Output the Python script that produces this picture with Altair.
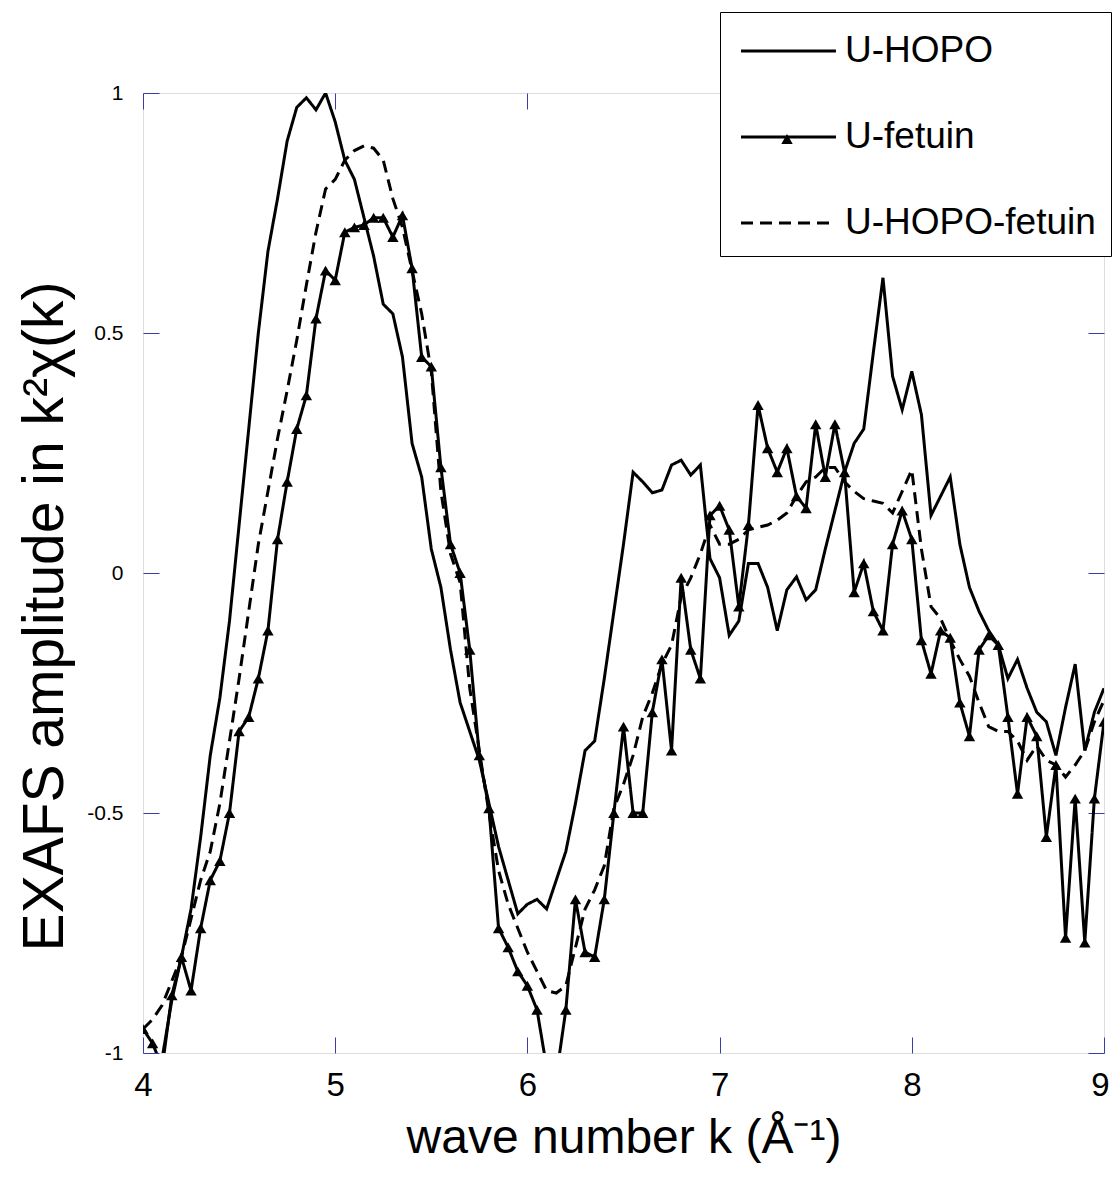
import altair as alt
import pandas as pd

k = [round(4 + 0.05 * i, 2) for i in range(101)]

u_hopo = [
    -1.15, -1.08, -1.01, -0.89, -0.80, -0.70, -0.55, -0.38, -0.26, -0.10,
    0.10, 0.30, 0.50, 0.67, 0.78, 0.90, 0.97, 0.99, 0.965, 1.00,
    0.94, 0.86, 0.82, 0.74, 0.66, 0.56, 0.54, 0.45, 0.27, 0.20,
    0.05, -0.03, -0.16, -0.27, -0.33, -0.39, -0.48, -0.57, -0.64, -0.71,
    -0.69, -0.68, -0.70, -0.64, -0.58, -0.48, -0.37, -0.35, -0.22, -0.08,
    0.06, 0.21, 0.19, 0.167, 0.173, 0.225, 0.235, 0.204, 0.225, 0.03,
    -0.01, -0.13, -0.10, 0.02, 0.02, -0.03, -0.12, -0.035, -0.008, -0.056,
    -0.035, 0.05, 0.13, 0.21, 0.27, 0.30, 0.46, 0.615, 0.41, 0.34,
    0.42, 0.33, 0.12, 0.16, 0.20, 0.06, -0.03, -0.08, -0.12, -0.15,
    -0.22, -0.18, -0.24, -0.29, -0.31, -0.38, -0.28, -0.19, -0.37, -0.29,
    -0.24,
]

u_fetuin = [
    -0.95, -0.98, -1.03, -0.88, -0.80, -0.87, -0.74, -0.64, -0.60, -0.50,
    -0.33, -0.30, -0.22, -0.12, 0.07, 0.19, 0.30, 0.37, 0.53, 0.63,
    0.61, 0.71, 0.72, 0.725, 0.74, 0.74, 0.70, 0.745, 0.635, 0.45,
    0.43, 0.22, 0.06, 0.00, -0.16, -0.38, -0.49, -0.74, -0.78, -0.83,
    -0.86, -0.91, -1.03, -1.05, -0.91, -0.68, -0.79, -0.80, -0.68, -0.50,
    -0.32, -0.50, -0.50, -0.29, -0.18, -0.37, -0.01, -0.16, -0.22, 0.12,
    0.14, 0.09, -0.07, 0.10, 0.35, 0.26, 0.21, 0.26, 0.16, 0.135,
    0.31, 0.20, 0.31, 0.21, -0.04, 0.02, -0.08, -0.12, 0.06, 0.13,
    0.07, -0.14, -0.21, -0.12, -0.135, -0.27, -0.34, -0.16, -0.13, -0.15,
    -0.30, -0.46, -0.30, -0.34, -0.55, -0.40, -0.76, -0.47, -0.77, -0.47,
    -0.31,
]

u_hopo_fetuin = [
    -0.95, -0.93, -0.90, -0.85, -0.80, -0.72, -0.64, -0.58, -0.48, -0.35,
    -0.22, -0.08, 0.06, 0.17, 0.28, 0.38, 0.485, 0.60, 0.71, 0.80,
    0.82, 0.86, 0.88, 0.89, 0.885, 0.86, 0.78, 0.72, 0.63, 0.54,
    0.42, 0.17, 0.04, -0.02, -0.24, -0.37, -0.50, -0.62, -0.69, -0.74,
    -0.79, -0.83, -0.87, -0.875, -0.86, -0.78, -0.70, -0.66, -0.61, -0.49,
    -0.44, -0.38, -0.30, -0.25, -0.19, -0.15, -0.05, -0.01, 0.04, 0.10,
    0.06, 0.06, 0.07, 0.09, 0.095, 0.10, 0.11, 0.125, 0.16, 0.19,
    0.20, 0.22, 0.22, 0.19, 0.17, 0.155, 0.15, 0.145, 0.125, 0.17,
    0.215, 0.05, -0.07, -0.095, -0.14, -0.18, -0.215, -0.27, -0.32, -0.33,
    -0.33, -0.35, -0.39, -0.36, -0.39, -0.40, -0.425, -0.40, -0.37, -0.31,
    -0.265,
]

series_names = ["U-HOPO", "U-fetuin", "U-HOPO-fetuin"]
x_ticks = [4, 5, 6, 7, 8, 9]
y_ticks = [-1, -0.5, 0, 0.5, 1]

rows = []
for name, vals in zip(series_names, [u_hopo, u_fetuin, u_hopo_fetuin]):
    for kk, v in zip(k, vals):
        rows.append({"k": kk, "chi": v, "series": name})
df = pd.DataFrame(rows)

FONT = "Liberation Sans"
NARROW = "Liberation Sans Narrow, Liberation Sans"
BLUE = "#3c3ca5"
W, H = 961, 960

x_enc = alt.X(
    "k:Q",
    scale=alt.Scale(domain=[4, 9], nice=False, zero=False),
    axis=alt.Axis(
        values=x_ticks, title="wave number k (Å⁻¹)", domain=False, ticks=False,
        grid=True, gridColor=BLUE, gridWidth=1, gridOpacity=1,
        gridDash=[16, H - 32, 16, 2000],
        labelExpr="toString(datum.value)", labelFlush=False,
        labelAlign={"condition": {"test": "datum.value === 9", "value": "right"},
                    "value": "center"},
        labelOffset={"condition": {"test": "datum.value === 9", "value": 5},
                     "value": 0},
        labelFontSize=33, labelPadding=16, labelColor="black", labelFont=NARROW,
        titleFontSize=48, titleFont=FONT, titleFontWeight="normal",
        titleColor="black", titlePadding=12,
    ),
)
y_enc = alt.Y(
    "chi:Q",
    scale=alt.Scale(domain=[-1, 1], nice=False, zero=False),
    axis=alt.Axis(
        values=y_ticks, title="EXAFS amplitude in k²χ(k)", domain=False,
        ticks=False, grid=True, gridColor=BLUE, gridWidth=1, gridOpacity=1,
        gridDash=[16, W - 32, 16, 2000],
        labelExpr="toString(datum.value)", labelFlush=False,
        labelFontSize=21, labelPadding=20, labelColor="black", labelFont=FONT,
        titleFontSize=57, titleFont=FONT, titleFontWeight="normal",
        titleColor="black", titleX=-69, titleY=523,
    ),
)

base = alt.Chart(df)

sym_line = "M-0.8,0L3.42,0"

lines = base.mark_line(strokeWidth=3, color="black", clip=True).encode(
    x=x_enc,
    y=y_enc,
    detail="series:N",
    strokeDash=alt.StrokeDash(
        "series:N",
        sort=series_names,
        scale=alt.Scale(domain=series_names, range=[[1, 0], [1, 0], [12, 7]]),
        legend=alt.Legend(
            title=None, orient="none", legendX=577, legendY=-81,
            symbolType=sym_line, symbolSize=2025, symbolStrokeWidth=3,
            symbolStrokeColor="black", symbolOpacity=1,
            labelFontSize=37, labelFont=FONT, labelColor="black",
            labelOffset=62, rowPadding=44, padding=15,
            fillColor="white", strokeColor="black", labelLimit=600,
            zindex=1,
        ),
    ),
)

markers = base.transform_filter(alt.datum.series == "U-fetuin").mark_point(
    filled=True, color="black", size=130, opacity=1, clip=True
).encode(
    x="k:Q",
    y="chi:Q",
    shape=alt.Shape(
        "series:N",
        scale=alt.Scale(domain=["U-fetuin"], range=["triangle-up"]),
        legend=alt.Legend(
            title=None, orient="none", legendX=638, legendY=40,
            symbolSize=130, symbolFillColor="black", symbolStrokeColor="black",
            symbolStrokeWidth=0, symbolOpacity=1,
            labelFontSize=1, labelOpacity=0, padding=0, zindex=2,
        ),
    ),
)

chart = (
    alt.layer(lines, markers)
    .properties(
        width=W, height=H,
        autosize=alt.AutoSizeParams(type="none"),
        padding={"left": 135, "top": 85, "right": 8, "bottom": 113},
    )
    .configure_view(stroke=BLUE, strokeWidth=1.2)
    .configure_legend(strokeWidth=2)
    .configure(background="white")
)

chart.save("out.html", embed_options={"renderer": "svg", "actions": False})
